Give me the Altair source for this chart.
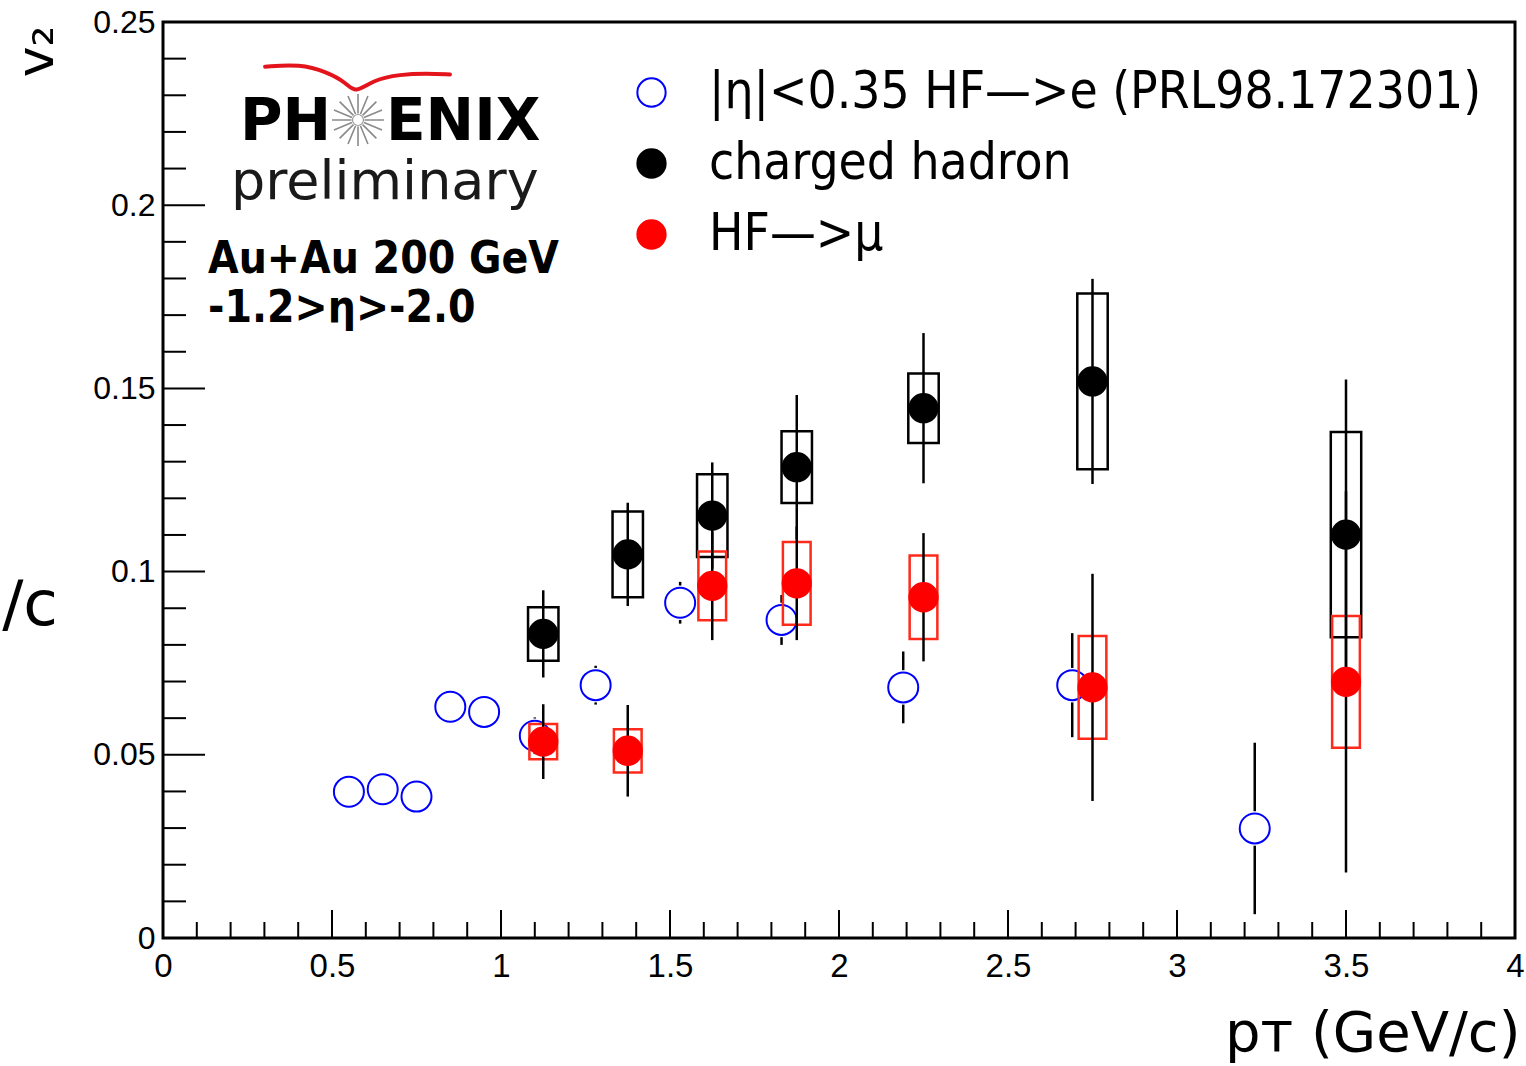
import math
import altair as alt
import pandas as pd

# ---------------------------------------------------------------
# v2 vs pT, Au+Au 200 GeV
# ---------------------------------------------------------------

# HF -> e at mid-rapidity, |eta| < 0.35 (PRL 98, 172301)
pt_e = [0.55, 0.65, 0.75, 0.85, 0.95, 1.10, 1.28, 1.53, 1.83, 2.19, 2.69, 3.23]
v2_e = [0.0399, 0.0406, 0.0386, 0.0631, 0.0617, 0.0552, 0.0690, 0.0915, 0.0868, 0.0684, 0.0690, 0.0299]
stat_e = [0.003, 0.003, 0.003, 0.003, 0.003, 0.0050, 0.0053, 0.0057, 0.0068, 0.0098, 0.0142, 0.0234]

# charged hadrons, -1.2 > eta > -2.0
pt_h = [1.125, 1.375, 1.625, 1.875, 2.25, 2.75, 3.5]
v2_h = [0.0830, 0.1047, 0.1153, 0.1285, 0.1446, 0.1519, 0.1101]
stat_h = [0.0119, 0.0141, 0.0145, 0.0197, 0.0205, 0.0280, 0.0423]
sys_h = [0.0073, 0.0117, 0.0113, 0.0098, 0.0095, 0.0240, 0.0280]

# HF -> mu, -1.2 > eta > -2.0
pt_m = [1.125, 1.375, 1.625, 1.875, 2.25, 2.75, 3.5]
v2_m = [0.0536, 0.0511, 0.0961, 0.0968, 0.0930, 0.0684, 0.0699]
stat_m = [0.0102, 0.0125, 0.0148, 0.0155, 0.0175, 0.0310, 0.0520]
sys_m = [0.0048, 0.0059, 0.0094, 0.0113, 0.0114, 0.0140, 0.0180]

# axis ticks
x_major = [0, 0.5, 1, 1.5, 2, 2.5, 3, 3.5, 4]
x_minor = [0.1, 0.2, 0.3, 0.4, 0.6, 0.7, 0.8, 0.9, 1.1, 1.2, 1.3, 1.4,
           1.6, 1.7, 1.8, 1.9, 2.1, 2.2, 2.3, 2.4, 2.6, 2.7, 2.8, 2.9,
           3.1, 3.2, 3.3, 3.4, 3.6, 3.7, 3.8, 3.9]
y_major = [0, 0.05, 0.1, 0.15, 0.2, 0.25]
y_minor = [0.01, 0.02, 0.03, 0.04, 0.06, 0.07, 0.08, 0.09, 0.11, 0.12, 0.13, 0.14,
           0.16, 0.17, 0.18, 0.19, 0.21, 0.22, 0.23, 0.24]

# PHENIX logo swoosh (in plot units)
logo_arc_x = [0.302, 0.405, 0.484, 0.544, 0.568, 0.622, 0.701, 0.780, 0.849]
logo_arc_y = [0.2378, 0.2385, 0.2364, 0.2333, 0.2305, 0.2342, 0.2357, 0.2360, 0.2357]

SER_E = "|η|<0.35 HF—>e (PRL98.172301)"
SER_H = "charged hadron"
SER_M = "HF—>μ"
SERIES = [SER_E, SER_H, SER_M]
FILLS = ["transparent", "#000000", "#ff0000"]
STROKES = ["#0000ff", "#000000", "#ff0000"]

# half widths of the systematic-error boxes (GeV/c)
BOX_HALF = {SER_E: 0.0, SER_H: 0.045, SER_M: 0.041}
# open-marker radius in v2 units: error bars stop at the marker edge
MARKER_R = 0.0047

rows = []
for s, pts, vals, stats, syss in [
    (SER_E, pt_e, v2_e, stat_e, [0.0] * len(pt_e)),
    (SER_H, pt_h, v2_h, stat_h, sys_h),
    (SER_M, pt_m, v2_m, stat_m, sys_m),
]:
    for p, v, e, y in zip(pts, vals, stats, syss):
        rows.append(dict(series=s, pt=p, v2=v, lo=v - e, hi=v + e,
                         lo_in=v - MARKER_R, hi_in=v + MARKER_R,
                         bx0=p - BOX_HALF[s], bx1=p + BOX_HALF[s],
                         sy0=v - y, sy1=v + y))
df = pd.DataFrame(rows)

W, H = 1352, 916
XS = alt.Scale(domain=[0, 4], nice=False, zero=False)
YS = alt.Scale(domain=[0, 0.25], nice=False, zero=False)

X_AX = alt.Axis(values=x_major, format="~g", ticks=False, domain=False, grid=False,
                labelFont="Liberation Sans", labelFontSize=33, labelPadding=12,
                labelColor="black", labelOverlap=False, labelFlush=False,
                title="pᴛ (GeV/c)", titleFont="DejaVu Sans", titleFontSize=56,
                titleFontWeight="normal", titleColor="black",
                titleAnchor="end", titleAlign="right", titleBaseline="alphabetic",
                titleX=1357, titleY=112)
Y_AX = alt.Axis(values=y_major, format="~g", ticks=False, domain=False, grid=False,
                labelFont="Liberation Sans", labelFontSize=32, labelPadding=8,
                labelColor="black", labelOverlap=False, labelFlush=False,
                title="v₂", titleFont="DejaVu Sans", titleFontSize=52,
                titleFontWeight="normal", titleColor="black", titleAngle=270,
                titleAlign="center", titleBaseline="alphabetic",
                titleX=-111, titleY=29)


def X(f="pt"):
    return alt.X(f"{f}:Q", scale=XS, axis=X_AX)


def Y(f="v2"):
    return alt.Y(f"{f}:Q", scale=YS, axis=Y_AX)


LEG = alt.Legend(orient="none", legendX=463, legendY=45, title=None, padding=0,
                 labelFont="DejaVu Sans Condensed", labelFontSize=51, labelColor="black",
                 labelOffset=32, labelLimit=2000, symbolSize=800, symbolStrokeWidth=2,
                 symbolType="circle", symbolOpacity=1, rowPadding=19)
FILL = alt.Fill("series:N", scale=alt.Scale(domain=SERIES, range=FILLS), legend=LEG)
STROKE = alt.Stroke("series:N", scale=alt.Scale(domain=SERIES, range=STROKES), legend=LEG)

base = alt.Chart(df)


def boxes(s, color):
    return base.transform_filter(alt.datum.series == s).mark_rect(
        fillOpacity=0, stroke=color, strokeWidth=2.5
    ).encode(x=X("bx0"), x2="bx1:Q", y=Y("sy0"), y2="sy1:Q")


def errors(s):
    return base.transform_filter(alt.datum.series == s).mark_rule(
        color="black", strokeWidth=2.5
    ).encode(x=X(), y=Y("lo"), y2="hi:Q")


def open_errors(s):
    # two segments each side of a hollow marker
    sub = base.transform_filter(alt.datum.series == s)
    up = sub.transform_filter(alt.datum.hi > alt.datum.hi_in).mark_rule(
        color="black", strokeWidth=2.5).encode(x=X(), y=Y("hi_in"), y2="hi:Q")
    down = sub.transform_filter(alt.datum.lo < alt.datum.lo_in).mark_rule(
        color="black", strokeWidth=2.5).encode(x=X(), y=Y("lo"), y2="lo_in:Q")
    return [up, down]


def markers(s, size):
    return base.transform_filter(alt.datum.series == s).mark_point(
        shape="circle", size=size, strokeWidth=2, opacity=1
    ).encode(x=X(), y=Y(), fill=FILL, stroke=STROKE)


# inward-pointing ticks on the frame
def yticks(vals, length):
    return alt.Chart(pd.DataFrame({"v2": vals})).mark_rule(color="black", strokeWidth=2).encode(
        y=Y(), x=alt.value(0), x2=alt.value(length))


def xticks(vals, length):
    return alt.Chart(pd.DataFrame({"pt": vals})).mark_rule(color="black", strokeWidth=2).encode(
        x=X(), y=alt.value(H), y2=alt.value(H - length))


one = pd.DataFrame({"k": [0]})


def label(text, x, y, size, font="DejaVu Sans", weight="normal", align="left",
          color="black", angle=0):
    return alt.Chart(one).mark_text(
        text=text, font=font, fontSize=size, fontWeight=weight, align=align,
        baseline="alphabetic", color=color, angle=angle
    ).encode(x=alt.value(x), y=alt.value(y))


# logo
arc = alt.Chart(pd.DataFrame({"pt": logo_arc_x, "v2": logo_arc_y})).mark_line(
    color="#e3141b", strokeWidth=4, interpolate="basis", strokeCap="round"
).encode(x=X(), y=Y())

spokes = 16
star_path = " ".join(
    f"M{0.25 * math.cos(2 * math.pi * i / spokes):.3f},{0.25 * math.sin(2 * math.pi * i / spokes):.3f}"
    f"L{math.cos(2 * math.pi * i / spokes):.3f},{math.sin(2 * math.pi * i / spokes):.3f}"
    for i in range(spokes)
)
star = alt.Chart(one).mark_point(
    shape=star_path, size=2700, stroke="#8a8a8a", strokeWidth=1.6, filled=False, opacity=1
).encode(x=alt.value(358 - 163), y=alt.value(120 - 22))
star_core = alt.Chart(one).mark_point(
    shape="circle", size=120, stroke="#9a9a9a", strokeWidth=1.2, filled=False, opacity=1
).encode(x=alt.value(358 - 163), y=alt.value(120 - 22))

texts = [
    label("PH", 331 - 163, 140 - 22, 58, weight="bold", align="right"),
    label("ENIX", 386 - 163, 140 - 22, 58, weight="bold"),
    label("preliminary", 231 - 163, 199 - 22, 54, color="#1a1a1a"),
    label("Au+Au 200 GeV", 208 - 163, 273 - 22, 44, font="DejaVu Sans Condensed", weight="bold"),
    label("-1.2>η>-2.0", 208 - 163, 322 - 22, 44, font="DejaVu Sans Condensed", weight="bold"),
    label("/c", 58 - 163, 625 - 22, 63, align="right"),
]

chart = alt.layer(
    yticks(y_major, 42), yticks(y_minor, 23),
    xticks(x_major, 28), xticks(x_minor, 16),
    *open_errors(SER_E), markers(SER_E, 900),
    boxes(SER_H, "black"), errors(SER_H), markers(SER_H, 800),
    boxes(SER_M, "#ff2a1a"), errors(SER_M), markers(SER_M, 800),
    arc, star, star_core, *texts,
).properties(
    width=W, height=H,
    autosize=alt.AutoSizeParams(type="none"),
    padding={"left": 163, "top": 22, "right": 11, "bottom": 128},
    background="white",
).configure_view(stroke="black", strokeWidth=3)

chart.save("out.html", embed_options={"renderer": "svg", "actions": False})
